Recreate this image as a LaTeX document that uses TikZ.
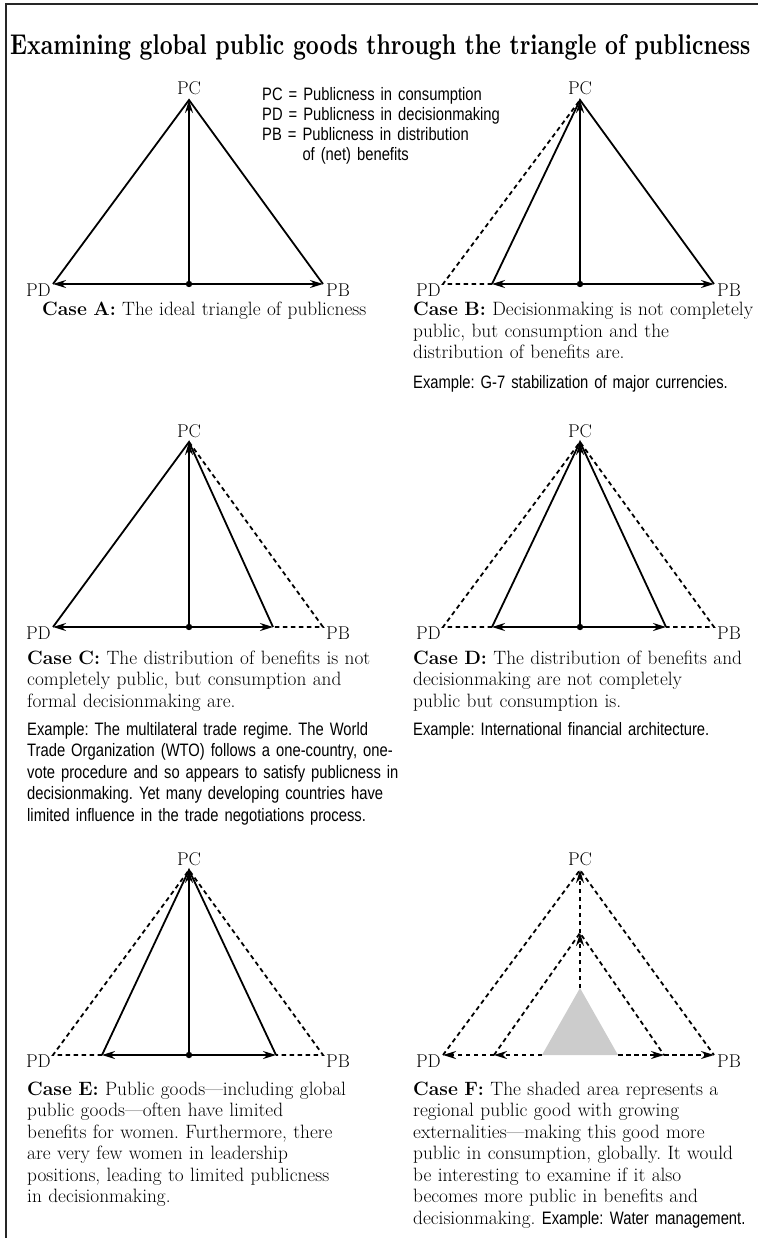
\documentclass[tikz,border=0pt]{standalone}
\usepackage{fontspec}
\usepackage{graphicx}
\usepackage{tikz}
\usetikzlibrary{arrows.meta}
\newfontfamily\condsans[FakeStretch=0.82]{Liberation Sans}

\tikzset{
  side/.style={line width=1.8pt},
  dashside/.style={line width=1.8pt, dash pattern=on 4.5pt off 3.5pt},
  arr/.style={line width=1.8pt, -{Stealth[length=13pt,width=8pt]}},
  dasharr/.style={dashside, -{Stealth[length=13pt,width=8pt]}},
  vertex/.style={font=\fontsize{18.5}{18.5}\selectfont, inner sep=0pt},
  caption/.style={font=\fontsize{19.3}{21.5}\selectfont, text width=400pt, align=left, anchor=base west, inner sep=0pt},
  example/.style={font=\condsans\fontsize{18}{21.5}\selectfont, text width=400pt, align=left, anchor=base west, inner sep=0pt}
}

\begin{document}
\frenchspacing
\begin{tikzpicture}[x=1pt,y=-1pt]
\useasboundingbox (0,0) rectangle (758,1238);
\draw[line width=1.5pt, black!85] (6,1238) -- (6,4) -- (758,4);

\node[anchor=base west, inner sep=0pt] (title) at (10,55)
  {\resizebox{740pt}{20pt}{\bfseries Examining global public goods through the triangle of publicness}};

\node[example, font=\condsans\fontsize{18}{20}\selectfont] (legend) at (262,101)
  {PC = Publicness in consumption\\
   PD = Publicness in decisionmaking\\
   PB = Publicness in distribution\\
   \phantom{PB = }of (net) benefits};

% Case A
\coordinate (pcA) at (189,100);
\coordinate (pdA) at (53,284);
\coordinate (pbA) at (323,284);
\coordinate (oA) at (189,284);
\draw[side] (pdA) -- (pcA) -- (pbA);
\draw[arr] (oA) -- (pdA);
\draw[arr] (oA) -- (pbA);
\draw[arr] (oA) -- (pcA);
\fill (oA) circle (3.2pt);
\node[vertex, anchor=base] (lpcA) at (189,95) {PC};
\node[vertex, anchor=base east] (lpdA) at (51,296) {PD};
\node[vertex, anchor=base west] (lpbA) at (326,296) {PB};
\node[caption] (capA) at (42,316) {\textbf{Case A:} The ideal triangle of publicness};

% Case B
\coordinate (pcB) at (580,100);
\coordinate (pdB) at (443,284);
\coordinate (inB) at (492,284);
\coordinate (pbB) at (714,284);
\coordinate (oB) at (580,284);
\draw[dashside] (inB) -- (pdB) -- (pcB);
\draw[side] (inB) -- (pcB) -- (pbB);
\draw[arr] (oB) -- (inB);
\draw[arr] (oB) -- (pbB);
\draw[arr] (oB) -- (pcB);
\fill (oB) circle (3.2pt);
\node[vertex, anchor=base] (lpcB) at (580,95) {PC};
\node[vertex, anchor=base east] (lpdB) at (441,296) {PD};
\node[vertex, anchor=base west] (lpbB) at (717,296) {PB};
\node[caption] (capB) at (413,316) {\textbf{Case B:} Decisionmaking is not completely\\
  public, but consumption and the\\ distribution of benefits are.};
\node[example] (exB) at (413,388) {Example: G-7 stabilization of major currencies.};

% Case C
\coordinate (pcC) at (189,442);
\coordinate (pdC) at (53,627);
\coordinate (inC) at (273,627);
\coordinate (pbC) at (323,627);
\coordinate (oC) at (189,627);
\draw[side] (pdC) -- (pcC) -- (inC);
\draw[dashside] (pcC) -- (pbC) -- (inC);
\draw[arr] (oC) -- (pdC);
\draw[arr] (oC) -- (inC);
\draw[arr] (oC) -- (pcC);
\fill (oC) circle (3.2pt);
\node[vertex, anchor=base] (lpcC) at (189,437) {PC};
\node[vertex, anchor=base east] (lpdC) at (51,639) {PD};
\node[vertex, anchor=base west] (lpbC) at (326,639) {PB};
\node[caption] (capC) at (27,664) {\textbf{Case C:} The distribution of benefits is not\\
  completely public, but consumption and\\ formal decisionmaking are.};
\node[example] (exC) at (27,735) {Example: The multilateral trade regime. The World\\
  Trade Organization (WTO) follows a one-country, one-\\
  vote procedure and so appears to satisfy publicness in\\
  decisionmaking. Yet many developing countries have\\
  limited influence in the trade negotiations process.};

% Case D
\coordinate (pcD) at (580,442);
\coordinate (pdD) at (443,627);
\coordinate (inlD) at (492,627);
\coordinate (inrD) at (666,627);
\coordinate (pbD) at (714,627);
\coordinate (oD) at (580,627);
\draw[dashside] (inlD) -- (pdD) -- (pcD) -- (pbD) -- (inrD);
\draw[side] (inlD) -- (pcD) -- (inrD);
\draw[arr] (oD) -- (inlD);
\draw[arr] (oD) -- (inrD);
\draw[arr] (oD) -- (pcD);
\fill (oD) circle (3.2pt);
\node[vertex, anchor=base] (lpcD) at (580,437) {PC};
\node[vertex, anchor=base east] (lpdD) at (441,639) {PD};
\node[vertex, anchor=base west] (lpbD) at (717,639) {PB};
\node[caption] (capD) at (413,664) {\textbf{Case D:} The distribution of benefits and\\
  decisionmaking are not completely\\ public but consumption is.};
\node[example] (exD) at (413,735) {Example: International financial architecture.};

% Case E
\coordinate (pcE) at (189,870);
\coordinate (pdE) at (53,1055);
\coordinate (inlE) at (102,1055);
\coordinate (inrE) at (276,1055);
\coordinate (pbE) at (323,1055);
\coordinate (oE) at (189,1055);
\draw[dashside] (inlE) -- (pdE) -- (pcE) -- (pbE) -- (inrE);
\draw[side] (inlE) -- (pcE) -- (inrE);
\draw[arr] (oE) -- (inlE);
\draw[arr] (oE) -- (inrE);
\draw[arr] (oE) -- (pcE);
\fill (oE) circle (3.2pt);
\node[vertex, anchor=base] (lpcE) at (189,865) {PC};
\node[vertex, anchor=base east] (lpdE) at (51,1067) {PD};
\node[vertex, anchor=base west] (lpbE) at (326,1067) {PB};
\node[caption] (capE) at (27,1095) {\textbf{Case E:} Public goods---including global\\
  public goods---often have limited\\ benefits for women. Furthermore, there\\
  are very few women in leadership\\ positions, leading to limited publicness\\
  in decisionmaking.};

% Case F
\coordinate (pcF) at (580,870);
\coordinate (pdF) at (443,1055);
\coordinate (pbF) at (714,1055);
\coordinate (mtF) at (580,933);
\coordinate (mlF) at (494,1055);
\coordinate (mrF) at (664,1055);
\coordinate (stF) at (580,988);
\coordinate (slF) at (542,1055);
\coordinate (srF) at (618,1055);
\fill[black!20] (slF) -- (stF) -- (srF) -- cycle;
\draw[dashside] (pdF) -- (pcF) -- (pbF);
\draw[dashside] (mlF) -- (mtF) -- (mrF);
\draw[dasharr] (stF) -- (mtF);
\draw[dasharr] (mtF) -- (pcF);
\draw[dasharr] (slF) -- (mlF);
\draw[dasharr] (mlF) -- (pdF);
\draw[dasharr] (srF) -- (mrF);
\draw[dasharr] (mrF) -- (pbF);
\node[vertex, anchor=base] (lpcF) at (580,865) {PC};
\node[vertex, anchor=base east] (lpdF) at (441,1067) {PD};
\node[vertex, anchor=base west] (lpbF) at (717,1067) {PB};
\node[caption] (capF) at (413,1095) {\textbf{Case F:} The shaded area represents a\\
  regional public good with growing\\ externalities---making this good more\\
  public in consumption, globally. It would\\ be interesting to examine if it also\\
  becomes more public in benefits and\\
  decisionmaking. {\condsans\fontsize{18}{21.5}\selectfont Example: Water management.}};
\end{tikzpicture}
\end{document}
